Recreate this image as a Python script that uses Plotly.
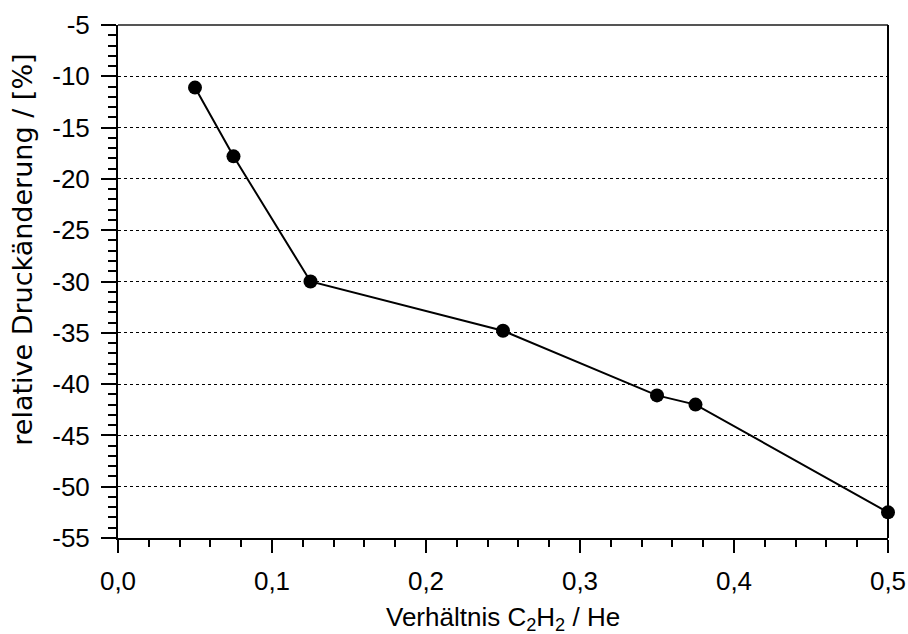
import plotly.graph_objects as go

# Verhältnis C2H2/He und relative Druckänderung in %
ratio = [0.05, 0.075, 0.125, 0.25, 0.35, 0.375, 0.5]
pressure_change = [-11.1, -17.8, -30.0, -34.8, -41.1, -42.0, -52.5]

y_ticks = [-55, -50, -45, -40, -35, -30, -25, -20, -15, -10, -5]
x_ticks = [0.0, 0.1, 0.2, 0.3, 0.4, 0.5]

x_title = "Verhältnis C<sub>2</sub>H<sub>2</sub> / He"
y_title = "relative Druckänderung / [%]"

fig = go.Figure()
fig.add_trace(go.Scatter(
    x=ratio, y=pressure_change, mode="lines+markers",
    line=dict(color="black", width=2),
    marker=dict(color="black", size=14),
    cliponaxis=False, showlegend=False,
))

FAMILY = "Liberation Sans"
tick_font = dict(family=FAMILY, size=26, color="black")

fig.update_layout(
    width=908, height=634,
    margin=dict(l=118, r=20, t=25, b=96, autoexpand=False),
    plot_bgcolor="white", paper_bgcolor="white",
    font=dict(family=FAMILY, size=26, color="black"),
    xaxis=dict(
        range=[0, 0.5],
        tickmode="array", tickvals=x_ticks,
        ticktext=[f"{v:.1f}".replace(".", ",") for v in x_ticks],
        tickfont=tick_font,
        showgrid=False, zeroline=False, automargin=False,
        showline=True, linecolor="black", linewidth=2,
        ticks="outside", ticklen=13, tickwidth=2, tickcolor="black",
        minor=dict(dtick=0.02, ticks="outside", ticklen=7, tickwidth=2, tickcolor="black"),
        ticklabelstandoff=6,
    ),
    yaxis=dict(
        range=[-55, -5],
        tickmode="array", tickvals=y_ticks,
        ticktext=[str(v) for v in y_ticks],
        tickfont=tick_font,
        showgrid=True, gridcolor="black", griddash="dot", gridwidth=1,
        zeroline=False, automargin=False,
        showline=True, linecolor="black", linewidth=2,
        ticks="outside", ticklen=15, tickwidth=2, tickcolor="black",
        minor=dict(dtick=1, ticks="outside", ticklen=8, tickwidth=2, tickcolor="black", showgrid=False),
        ticklabelstandoff=6,
    ),
    annotations=[
        # x-axis title below the tick labels
        dict(text=x_title, xref="paper", yref="paper", x=0.5, y=-0.1575,
             xanchor="center", yanchor="middle", showarrow=False,
             font=dict(family=FAMILY, size=26, color="black")),
        # y-axis title, set slightly above the plot centre and in a wider face
        dict(text=y_title, xref="paper", yref="paper", x=-0.124, y=0.561,
             xanchor="center", yanchor="middle", textangle=-90, showarrow=False,
             font=dict(family="DejaVu Sans", size=27, color="black")),
    ],
    shapes=[
        dict(type="line", xref="paper", yref="paper", x0=0, x1=1, y0=1, y1=1,
             line=dict(color="#555555", width=2)),
        dict(type="line", xref="paper", yref="paper", x0=1, x1=1, y0=0, y1=1,
             line=dict(color="black", width=2)),
    ],
)

fig.write_html("out.html")
